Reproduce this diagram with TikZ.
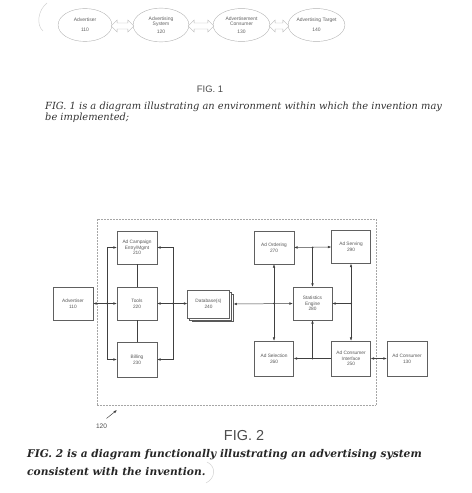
\documentclass[tikz,border=0pt]{standalone}
\usepackage{fontspec}
\setmainfont{Liberation Sans}
\newfontfamily\capfont{DejaVu Serif}
\usetikzlibrary{arrows.meta,shapes.geometric,calc}
\begin{document}
\begin{tikzpicture}[x=1bp,y=-1bp,
 ell/.style={ellipse,draw=gray!60,line width=0.4pt,minimum width=55,minimum height=33,inner sep=0pt,align=center,font=\fontsize{5}{5.6}\selectfont,text=gray!75!black},
 bx/.style={rectangle,draw=gray!75!black,line width=0.4pt,minimum width=40,minimum height=33,inner sep=0pt,align=center,font=\fontsize{4.8}{5.6}\selectfont,text=gray!70!black,fill=white},
 conn/.style={draw=gray!50!black,line width=0.5pt},
 tip/.style={-{Latex[length=3.5pt,width=2.6pt]}},
 both/.style={{Latex[length=3.5pt,width=2.6pt]}-{Latex[length=3.5pt,width=2.6pt]}},
 jdot/.style={circle,fill=gray!50!black,inner sep=0pt,minimum size=2pt},
 blk/.style={draw=gray!55,line width=0.4pt,fill=white},
 faint/.style={draw=gray!35,line width=0.5pt},
]
\useasboundingbox (0,0) rectangle (472,493);

% ---------- FIG. 1 ----------
\draw[faint] (47,3) .. controls (38,10) and (36,25) .. (43,31);
\node[ell,minimum width=54] (e110) at (85,25) {Advertiser\\[4pt]110};
\node[ell,minimum width=56,minimum height=34] (e120) at (161,25) {Advertising\\System\\[2pt]120};
\node[ell,minimum width=57] (e130) at (241.5,25) {Advertisement\\Consumer\\[2pt]130};
\node[ell,minimum width=57] (e140) at (316.5,25) {Advertising Target\\[4pt]140};

\newcommand{\hollowarrow}[2]{%
 \draw[blk] ($(#1.east)+(-1,1)$) -- ($(#1.east)+(5,-5)$) -- ($(#1.east)+(5,-2)$)
  -- ($(#2.west)+(-5,-2)$) -- ($(#2.west)+(-5,-5)$) -- ($(#2.west)+(1,1)$)
  -- ($(#2.west)+(-5,7)$) -- ($(#2.west)+(-5,4)$) -- ($(#1.east)+(5,4)$)
  -- ($(#1.east)+(5,7)$) -- cycle;}
\hollowarrow{e110}{e120}
\hollowarrow{e120}{e130}
\hollowarrow{e130}{e140}

\node[font=\fontsize{9.5}{10}\selectfont,text=gray!60!black] (fig1) at (210,89) {FIG. 1};
\node[anchor=base west,inner sep=0pt,font=\capfont\itshape\fontsize{9.9}{10}\selectfont,text=black!80] (cap1a) at (45,110) {FIG. 1 is a diagram illustrating an environment within which the invention may};
\node[anchor=base west,inner sep=0pt,font=\capfont\itshape\fontsize{9.9}{10}\selectfont,text=black!80] (cap1b) at (45,120.5) {be implemented;};

% ---------- FIG. 2 ----------
\draw[gray!70,line width=0.5pt,dash pattern=on 0.7pt off 0.8pt] (97.5,219) rectangle (376,405);

\node[bx] (adv) at (73,303.5) {Advertiser\\110};
\node[bx] (camp) at (137,247.5) {Ad Campaign\\Entry/Mgmt\\210};
\node[bx] (tools) at (137,303.5) {Tools\\220};
\node[bx,minimum height=35] (bill) at (137,359.5) {Billing\\230};

\draw[blk,draw=gray!70!black] (192,294) rectangle (233.5,321.5);
\draw[blk,draw=gray!70!black] (189.5,292) rectangle (231.5,320);
\node[bx,minimum width=42,minimum height=28] (db) at (208.5,304) {Database(s)\\240};

\node[bx] (ord) at (274,247.5) {Ad Ordering\\270};
\node[bx,minimum width=39] (serv) at (351,247) {Ad Serving\\290};
\node[bx,minimum width=39] (stat) at (312.5,303.5) {Statistics\\Engine\\280};
\node[bx,minimum width=39,minimum height=35] (sel) at (274,358.5) {Ad Selection\\260};
\node[bx,minimum width=39,minimum height=35] (aci) at (351,358.5) {Ad Consumer\\Interface\\250};
\node[bx,minimum width=40,minimum height=35] (cons) at (407,358.5) {Ad Consumer\\130};

% left side
\coordinate (jl) at (107,303.5);
\coordinate (jr) at (173,303.5);
\draw[conn,both] (adv.east) -- (tools.west);
\draw[conn,tip] (jl) |- (camp.west);
\draw[conn,tip] (jl) |- (bill.west);
\draw[conn,both] (tools.east) -- (tools.east -| db.west);
\draw[conn,tip] (jr) |- (camp.east);
\draw[conn,tip] (jr) |- (bill.east);
\draw[conn] (camp) -- (tools);
\draw[conn] (tools) -- (bill);
\node[jdot] at (jl) {};
\node[jdot] at (jr) {};

% right side
\coordinate (dbe) at (233.5,304);
\draw[conn,both] (dbe) -- (stat.west);
\coordinate (jm) at (ord.south |- stat.west);
\draw[conn,both] (ord.south) -- (sel.north);
\node[jdot] at (jm) {};

\draw[conn,both] (ord.east) -- (serv.west);
\coordinate (jt) at (stat.north |- ord.east);
\draw[conn,tip] (jt) -- (stat.north);
\node[jdot] at (jt) {};

\draw[conn,both] (serv.south) -- (aci.north);
\coordinate (jrr) at (serv.south |- stat.east);
\draw[conn,tip] (jrr) -- (stat.east);
\node[jdot] at (jrr) {};

\draw[conn,tip] (aci.west) -- (sel.east);
\coordinate (jb) at (stat.south |- aci.west);
\draw[conn,tip] (jb) -- (stat.south);
\node[jdot] at (jb) {};

\draw[conn,both] (aci.east) -- (cons.west);

% label 120
\node[font=\fontsize{6.6}{7}\selectfont,text=gray!60!black,inner sep=1pt] (l120) at (101.5,426) {120};
\coordinate (t120) at (117,410);
\draw[conn,tip] ([shift={(5,-4)}]l120.north) -- (t120);

\node[font=\fontsize{14.5}{15}\selectfont,text=gray!60!black] (fig2) at (244,436) {FIG. 2};
\node[anchor=base west,inner sep=0pt,font=\capfont\bfseries\itshape\fontsize{10.7}{11}\selectfont,text=black!85] (cap2a) at (27,457.5) {FIG. 2 is a diagram functionally illustrating an advertising system};
\node[anchor=base west,inner sep=0pt,font=\capfont\bfseries\itshape\fontsize{10.7}{11}\selectfont,text=black!85] (cap2b) at (27,475.5) {consistent with the invention.};
\draw[faint] (207,462) .. controls (216,466) and (216,478) .. (206,483);
\end{tikzpicture}
\end{document}
